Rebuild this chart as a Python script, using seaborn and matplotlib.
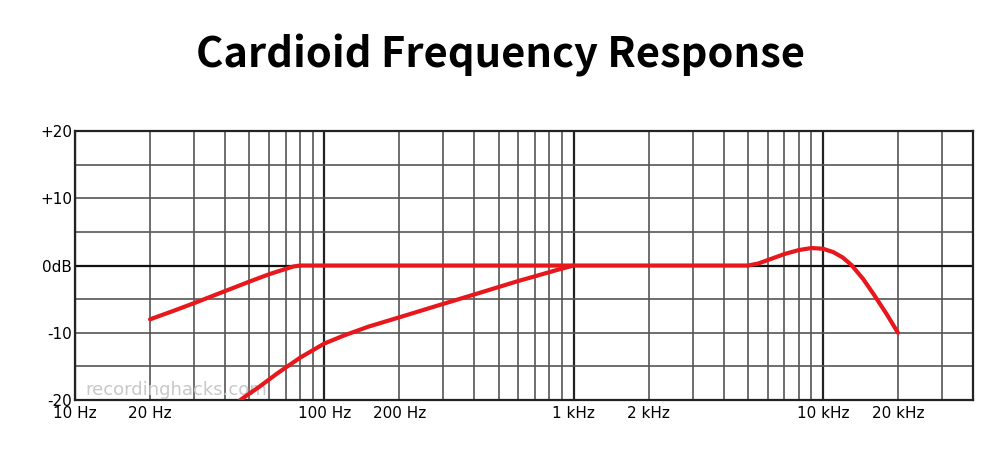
import matplotlib
matplotlib.use("Agg")
import matplotlib.pyplot as plt
import numpy as np
import pandas as pd
import seaborn as sns

# curve points (Hz, dB)
upper_freq = [20, 25, 30, 40, 50, 60, 70, 75, 80, 100, 300, 1000, 3000, 5000, 5500, 6000, 7000, 8000, 9000, 10000, 11000, 12000, 13000, 14500, 16000, 18000, 20000]
upper_db = [-8.0, -6.7, -5.6, -3.8, -2.4, -1.3, -0.5, -0.15, 0.0, 0.0, 0.0, 0.0, 0.0, 0.0, 0.3, 0.8, 1.7, 2.3, 2.6, 2.5, 2.0, 1.2, 0.1, -2.0, -4.3, -7.2, -10.0]
lower_freq = [46, 55, 65, 80, 100, 120, 150, 200, 250, 300, 400, 500, 600, 700, 850, 1000]
lower_db = [-20.0, -18.0, -16.0, -13.7, -11.6, -10.4, -9.1, -7.7, -6.6, -5.7, -4.3, -3.2, -2.3, -1.6, -0.7, 0.0]

tick_freqs = [10, 20, 100, 200, 1000, 2000, 10000, 20000]
tick_labels = ["10 Hz", "20 Hz", "100 Hz", "200 Hz", "1 kHz", "2 kHz", "10 kHz", "20 kHz"]
db_ticks = [20, 10, 0, -10, -20]
db_labels = ["+20", "+10", "0dB", "-10", "-20"]

sns.set_style("white")
fig = plt.figure(figsize=(10, 4.59), dpi=100)
ax = fig.add_axes([0.075, 0.1285, 0.898, 0.586])

for fr, db in [(upper_freq, upper_db), (lower_freq, lower_db)]:
    df = pd.DataFrame({"f": fr, "db": db})
    sns.lineplot(data=df, x="f", y="db", ax=ax, color="#e8171c", lw=3, zorder=5)

ax.set_xscale("log")
ax.set_xlim(10, 40000)
ax.set_ylim(-20, 20)

# grid: every 1-2-3..9 on log, every 5 dB
for dec in [10, 100, 1000, 10000]:
    for m in range(1, 10):
        f = dec * m
        if f > 40000:
            break
        major = m == 1
        ax.axvline(f, color="#222222" if major else "#555555", lw=1.6 if major else 1.2, zorder=1)
for y in range(-15, 20, 5):
    ax.axhline(y, color="#111111" if y == 0 else "#555555", lw=1.6 if y == 0 else 1.2, zorder=1)
for s in ax.spines.values():
    s.set_linewidth(1.6)
    s.set_color("#222222")

ax.set_xticks(tick_freqs)
ax.set_xticklabels(tick_labels)
ax.xaxis.set_minor_locator(matplotlib.ticker.NullLocator())
ax.set_yticks(db_ticks)
ax.set_yticklabels(db_labels)
ax.tick_params(length=0, labelsize=11, pad=2, colors="black")
ax.tick_params(axis="x", pad=4)
ax.set_xlabel("")
ax.set_ylabel("")

ax.text(11, -19.3, "recordinghacks.com", fontsize=13, color="#c8c8c8", zorder=3)

fig.text(0.5, 0.88, "Cardioid Frequency Response", ha="center", va="center", color="black",
         fontsize=30, family=["Noto Sans CJK SC", "DejaVu Sans"], weight="bold")

fig.savefig("out.png", dpi=100)
